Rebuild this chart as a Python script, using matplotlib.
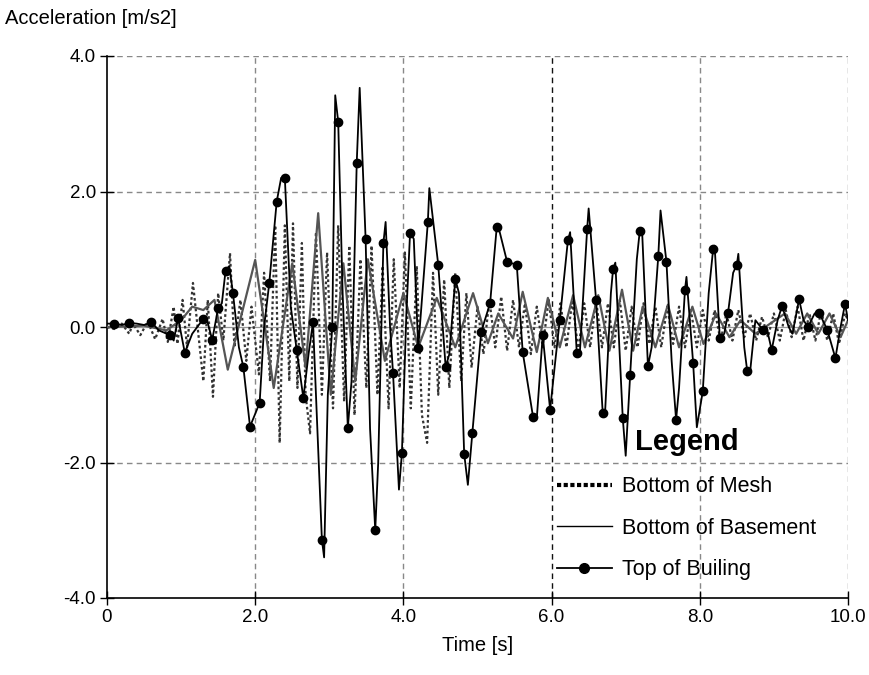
import matplotlib
matplotlib.use("Agg")
import matplotlib.pyplot as plt
from matplotlib.lines import Line2D

plt.rcParams['font.family'] = ['Liberation Sans', 'DejaVu Sans']

# ---- data ----
mesh_t = [0.0, 0.1, 0.2, 0.3, 0.35, 0.45, 0.55, 0.65, 0.75, 0.82, 0.9, 0.95, 1.02, 1.08,
          1.16, 1.3, 1.36, 1.43, 1.5, 1.57, 1.66, 1.72, 1.8, 1.88, 1.95, 2.05, 2.12, 2.2,
          2.27, 2.33, 2.4, 2.46, 2.51, 2.57, 2.63, 2.68, 2.74, 2.82, 2.9, 2.97, 3.05, 3.12,
          3.2, 3.27, 3.34, 3.42, 3.5, 3.57, 3.65, 3.72, 3.8, 3.87, 3.95, 4.02, 4.1, 4.18,
          4.25, 4.32, 4.4, 4.47, 4.55, 4.62, 4.7, 4.78, 4.85, 4.92, 5.0, 5.08, 5.16, 5.24,
          5.32, 5.4, 5.48, 5.56, 5.64, 5.72, 5.8, 5.88, 5.96, 6.04, 6.12, 6.2, 6.28, 6.36,
          6.44, 6.52, 6.6, 6.68, 6.76, 6.84, 6.92, 7.0, 7.08, 7.16, 7.24, 7.32, 7.4, 7.48,
          7.56, 7.64, 7.72, 7.8, 7.88, 7.96, 8.04, 8.12, 8.2, 8.28, 8.36, 8.44, 8.52, 8.6,
          8.68, 8.76, 8.84, 8.92, 9.0, 9.08, 9.16, 9.24, 9.32, 9.4, 9.48, 9.56, 9.64, 9.72,
          9.8, 9.88, 9.96, 10.0]
mesh_y = [0.0, -0.03, 0.05, -0.1, 0.05, -0.12, 0.08, -0.18, 0.12, -0.22, 0.3, -0.25, 0.4, -0.3,
          0.65, -0.8, 0.4, -1.03, 0.5, -0.2, 1.09, -0.3, 0.4, -0.5, 0.3, -0.7, 0.8, -0.8,
          1.5, -1.71, 1.5, -0.8, 1.53, -0.9, 1.24, -1.0, -1.57, 1.4, -1.0, 1.1, -1.2, 1.5,
          -1.1, 1.2, -1.3, 1.0, -0.9, 1.2, -1.0, 0.9, -1.2, 1.0, -0.9, 1.1, -1.2, 0.9,
          -1.3, -1.71, 0.8, -1.0, 0.7, -0.9, 0.8, -0.8, 0.5, -0.6, 0.3, -0.4, 0.4, -0.3,
          0.45, -0.35, 0.4, -0.3, 0.35, -0.4, 0.3, -0.3, 0.4, -0.3, 0.35, -0.3, 0.4, -0.35,
          0.35, -0.3, 0.4, -0.3, 0.35, -0.3, 0.4, -0.35, 0.3, -0.3, 0.35, -0.25, 0.3, -0.3,
          0.3, -0.25, 0.3, -0.3, 0.25, -0.3, 0.25, -0.2, 0.25, -0.2, 0.2, -0.2, 0.25, -0.15,
          0.2, -0.2, 0.15, -0.15, 0.2, -0.2, 0.25, -0.15, 0.3, -0.2, 0.2, -0.2, 0.25, -0.2,
          0.2, -0.25, 0.2, 0.1]

base_t = [0.0, 0.5, 0.8, 1.0, 1.15, 1.3, 1.45, 1.63, 2.0, 2.25, 2.5, 2.68, 2.85, 3.02, 3.19,
          3.35, 3.52, 3.75, 4.0, 4.2, 4.45, 4.7, 4.94, 5.14, 5.28, 5.48, 5.61, 5.8, 5.95,
          6.11, 6.29, 6.45, 6.63, 6.78, 6.95, 7.1, 7.23, 7.4, 7.57, 7.72, 7.9, 8.05, 8.22,
          8.4, 8.55, 8.75, 8.95, 9.15, 9.3, 9.45, 9.6, 9.75, 9.9, 10.0]
base_y = [0.0, 0.02, -0.05, 0.1, 0.3, 0.25, 0.4, -0.63, 0.99, -0.9, 0.94, -0.6, 1.68, -1.0, 0.94,
          -0.8, 1.0, -0.5, 0.5, -0.3, 0.43, -0.3, 0.5, -0.24, 0.2, -0.17, 0.52, -0.37, 0.43,
          -0.3, 0.47, -0.3, 0.47, -0.35, 0.55, -0.35, 0.3, -0.3, 0.33, -0.3, 0.3, -0.25, 0.2,
          -0.15, 0.1, -0.1, 0.05, 0.2, -0.1, 0.2, -0.1, 0.2, -0.15, 0.1]

top_t = [0.0, 0.1, 0.2, 0.3, 0.4, 0.5, 0.6, 0.7, 0.85, 0.9, 0.96, 1.05, 1.15, 1.3, 1.35,
         1.42, 1.5, 1.55, 1.6, 1.65, 1.7, 1.78, 1.84, 1.93, 2.06, 2.12, 2.19, 2.29, 2.35,
         2.4, 2.48, 2.56, 2.65, 2.72, 2.78, 2.9, 2.93, 2.98, 3.04, 3.08, 3.12, 3.18, 3.25,
         3.3, 3.37, 3.41, 3.49, 3.55, 3.62, 3.66, 3.73, 3.76, 3.82, 3.86, 3.94, 3.98, 4.04,
         4.09, 4.14, 4.2, 4.33, 4.35, 4.47, 4.57, 4.62, 4.7, 4.75, 4.82, 4.87, 4.93, 5.05,
         5.17, 5.26, 5.3, 5.4, 5.53, 5.61, 5.75, 5.8, 5.88, 5.98, 6.05, 6.11, 6.22, 6.25,
         6.34, 6.38, 6.48, 6.5, 6.6, 6.69, 6.72, 6.8, 6.83, 6.86, 6.96, 7.0, 7.06, 7.15,
         7.19, 7.22, 7.3, 7.35, 7.44, 7.47, 7.55, 7.62, 7.68, 7.72, 7.8, 7.82, 7.91, 7.96,
         8.04, 8.12, 8.18, 8.2, 8.27, 8.33, 8.38, 8.45, 8.5, 8.52, 8.6, 8.64, 8.68, 8.75,
         8.85, 8.9, 8.97, 9.05, 9.11, 9.2, 9.25, 9.34, 9.4, 9.46, 9.55, 9.61, 9.72, 9.83,
         9.9, 9.96, 10.0]
top_y = [0.05, 0.05, 0.03, 0.06, 0.05, 0.03, 0.07, -0.05, -0.12, -0.2, 0.13, -0.38, -0.1, 0.12, 0.1,
         -0.19, 0.28, 0.35, 0.83, 0.9, 0.5, -0.3, -0.59, -1.47, -1.12, 0.0, 0.65, 1.85, 2.2,
         2.2, 0.3, -0.34, -1.05, -0.4, 0.07, -3.14, -3.4, -1.0, 0.0, 3.42, 3.03, 0.5, -1.49,
         -0.8, 2.42, 3.53, 1.3, -1.5, -3.0, -2.0, 1.24, 1.55, 0.0, -0.68, -2.4, -1.86, 0.2,
         1.39, 1.3, -0.31, 1.55, 2.05, 0.92, -0.59, -0.4, 0.71, 0.5, -1.87, -2.33, -1.57, -0.07,
         0.35, 1.48, 1.4, 0.96, 0.92, -0.37, -1.33, -1.35, -0.12, -1.22, -0.5, 0.1, 1.28, 1.4,
         -0.39, -0.4, 1.45, 1.75, 0.4, -1.27, -1.3, 0.5, 0.86, 0.95, -1.34, -1.9, -0.71, 1.0,
         1.42, 1.45, -0.58, -0.3, 1.05, 1.72, 0.96, -0.5, -1.37, -0.9, 0.55, 0.74, -0.53, -1.48,
         -0.95, 0.5, 1.15, 1.2, -0.16, -0.1, 0.2, 0.8, 0.92, 1.08, -0.3, -0.65, -0.65, 0.1,
         -0.04, 0.0, -0.34, 0.1, 0.31, 0.0, -0.1, 0.41, 0.1, 0.0, 0.2, 0.21, -0.04, -0.46,
         0.0, 0.34, 0.1]
top_mark = [0, 1, 0, 1, 0, 0, 1, 0, 1, 0, 1, 1, 0, 1, 0,
            1, 1, 0, 1, 0, 1, 0, 1, 1, 1, 0, 1, 1, 0,
            1, 0, 1, 1, 0, 1, 1, 0, 0, 1, 0, 1, 0, 1,
            0, 1, 0, 1, 0, 1, 0, 1, 0, 0, 1, 0, 1, 0,
            1, 0, 1, 1, 0, 1, 1, 0, 1, 0, 1, 0, 1, 1,
            1, 1, 0, 1, 1, 1, 1, 0, 1, 1, 0, 1, 1, 0,
            1, 0, 1, 0, 1, 1, 0, 0, 1, 0, 1, 0, 1, 0,
            1, 0, 1, 0, 1, 0, 1, 0, 1, 0, 1, 0, 1, 0,
            1, 0, 1, 0, 1, 0, 1, 0, 1, 0, 0, 1, 0, 0,
            1, 0, 1, 0, 1, 0, 0, 1, 0, 1, 0, 1, 1, 1,
            0, 1, 0]

legend_labels = ["Bottom of Mesh", "Bottom of Basement", "Top of Builing"]
x_ticks = [0, 2, 4, 6, 8, 10]
x_tick_labels = ["0", "2.0", "4.0", "6.0", "8.0", "10.0"]
y_ticks = [-4, -2, 0, 2, 4]
y_tick_labels = ["-4.0", "-2.0", "0.0", "2.0", "4.0"]

# ---- figure ----
fig = plt.figure(figsize=(8.69, 6.75), dpi=100)
ax = fig.add_axes([107/869, 1-598/675, (848-107)/869, (598-56)/675])
ax.set_xlim(0, 10)
ax.set_ylim(-4, 4)

# grid
for xv in x_ticks[1:]:
    ax.axvline(xv, color='#111111' if xv == 6 else '#888888', lw=1.0,
               ls=(0, (4, 3)), zorder=0)
for yv in y_ticks:
    if yv == 0:
        ax.axhline(yv, color='#999999', lw=0.9, zorder=0)
    elif yv != -4:
        ax.axhline(yv, color='#888888', lw=1.0, ls=(0, (4, 3)), zorder=0)

ax.plot(mesh_t, mesh_y, color='#333333', lw=1.6, ls=(0, (1.2, 1.2)), zorder=2)
ax.plot(base_t, base_y, color='#555555', lw=1.6, zorder=3)
ax.plot(top_t, top_y, color='black', lw=1.3, zorder=4)
mt = [t for t, m in zip(top_t, top_mark) if m]
my = [y for y, m in zip(top_y, top_mark) if m]
ax.plot(mt, my, ls='none', marker='o', ms=6, color='black', zorder=5)

ax.spines['top'].set_visible(False)
ax.spines['right'].set_visible(False)
ax.spines['left'].set_linewidth(1.2)
ax.spines['bottom'].set_linewidth(1.2)

ax.set_xticks(x_ticks)
ax.set_xticklabels(x_tick_labels)
ax.set_yticks(y_ticks)
ax.set_yticklabels(y_tick_labels)
ax.tick_params(axis='both', direction='inout', length=10, width=1.0, labelsize=13.5, pad=3)

ax.set_xlabel("Time [s]", fontsize=14.5, labelpad=7)
fig.text(5/869, 1-18/675, "Acceleration [m/s2]", fontsize=14.5, va='center', ha='left')

handles = [Line2D([], [], color='black', lw=3, ls=(0, (1, 0.6))),
           Line2D([], [], color='black', lw=1.0),
           Line2D([], [], color='black', lw=1.3, marker='o', ms=7)]
leg = ax.legend(handles, legend_labels, loc='upper left',
                bbox_to_anchor=(557/869, 1-428/675), bbox_transform=fig.transFigure,
                frameon=False, title='Legend', fontsize=15.5,
                title_fontproperties={'weight': 'bold', 'size': 21},
                handlelength=2.55, handletextpad=0.47, labelspacing=0.95,
                borderaxespad=0, borderpad=0)

fig.savefig("out.png", dpi=100)
